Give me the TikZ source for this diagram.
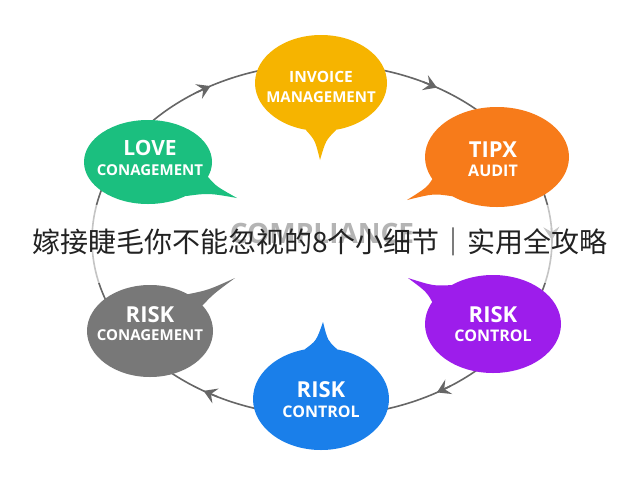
\documentclass[tikz,border=0pt]{standalone}
\usepackage{fontspec}
\usetikzlibrary{shapes.geometric,arrows.meta,calc}
\newfontfamily\cjkf{Noto Sans CJK SC}
\newfontfamily\bubf{Open Sans}
\definecolor{cYel}{HTML}{F6B400}
\definecolor{cGrn}{HTML}{1BBF7F}
\definecolor{cOrg}{HTML}{F77B1A}
\definecolor{cPur}{HTML}{9D1DEB}
\definecolor{cBlu}{HTML}{1A7FEA}
\definecolor{cGry}{HTML}{787878}
\definecolor{cRing}{HTML}{666666}
\definecolor{cComp}{HTML}{B4B4B4}
\definecolor{cTitle}{HTML}{222222}
\tikzset{
  ring/.style={draw=cRing, line width=1.6pt},
  ringhead/.style={draw=cRing, fill=cRing, line width=1.6pt, -{Stealth[length=13pt,width=16pt,inset=5pt]}},
  bub/.style={ellipse, draw=none, inner sep=0pt},
  btxt/.style={text=white, font=\bubf\bfseries, inner sep=0pt, anchor=center},
}
\newcommand\bubtail[4]{%
  \coordinate (#1mid) at ($(#1.center)!0.6!(#1tip)$);
  \fill[#4] (#1.center) -- (#1.#2)
    .. controls ($(#1.#2)!0.5!(#1tip)!0.3!(#1mid)$) .. (#1tip)
    .. controls ($(#1.#3)!0.5!(#1tip)!0.3!(#1mid)$) .. (#1.#3) -- cycle;}
\newcommand\ringpt[1]{({322+230*cos(#1)},{240+176*sin(#1)})}
\begin{document}
\begin{tikzpicture}[x=1pt,y=-1pt]
\useasboundingbox (0,0) rectangle (640,480);
\fill[white] (0,0) rectangle (640,480);
% ring
\draw[ring] (322,240) ellipse [x radius=230, y radius=176];
\draw[ringhead] \ringpt{237} -- \ringpt{241};
\draw[ringhead] \ringpt{296} -- \ringpt{300};
\draw[ringhead] \ringpt{-4} -- \ringpt{0};
\draw[ringhead] \ringpt{56} -- \ringpt{60};
\draw[ringhead] \ringpt{117} -- \ringpt{121};
% faded band
\fill[white, opacity=0.62] (0,205) rectangle (640,283);
% watermark word
\node[text=cComp, font=\bubf\bfseries\fontsize{28}{28}\selectfont, inner sep=0pt] (comp) at (322,233) {COMPLIANCE};
% bubbles
\node[bub, fill=cYel, minimum width=132, minimum height=96] (inv) at (321,83) {};
\coordinate (invtip) at (320,160);
\bubtail{inv}{252}{288}{cYel}
\node[bub, fill=cGrn, minimum width=128, minimum height=84] (love) at (148,162) {};
\coordinate (lovetip) at (237,198);
\bubtail{love}{-14}{-42}{cGrn}
\node[bub, fill=cOrg, minimum width=144, minimum height=100] (tipx) at (497,157) {};
\coordinate (tipxtip) at (407,200);
\bubtail{tipx}{199}{221}{cOrg}
\node[bub, fill=cPur, minimum width=136, minimum height=98] (rctl) at (493,324) {};
\coordinate (rctltip) at (408,278);
\bubtail{rctl}{137}{160}{cPur}
\node[bub, fill=cBlu, minimum width=136, minimum height=102] (bctl) at (321,399) {};
\coordinate (bctltip) at (323,322);
\bubtail{bctl}{108}{72}{cBlu}
\node[bub, fill=cGry, minimum width=126, minimum height=92] (rcon) at (150,331) {};
\coordinate (rcontip) at (235,278);
\bubtail{rcon}{44}{26}{cGry}
% bubble texts
\node[btxt, font=\bubf\bfseries\fontsize{15.5}{15.5}\selectfont] (invA) at (321,77) {INVOICE};
\node[btxt, font=\bubf\bfseries\fontsize{15}{15}\selectfont] (invB) at (321,97) {MANAGEMENT};
\node[btxt, font=\bubf\bfseries\fontsize{21}{21}\selectfont] (loveA) at (150,148) {LOVE};
\node[btxt, font=\bubf\bfseries\fontsize{15}{15}\selectfont] (loveB) at (150,170) {CONAGEMENT};
\node[btxt, font=\bubf\bfseries\fontsize{22}{22}\selectfont] (tipxA) at (493,150) {TIPX};
\node[btxt, font=\bubf\bfseries\fontsize{16}{16}\selectfont] (tipxB) at (493,171) {AUDIT};
\node[btxt, font=\bubf\bfseries\fontsize{22}{22}\selectfont] (rctlA) at (493,315) {RISK};
\node[btxt, font=\bubf\bfseries\fontsize{16}{16}\selectfont] (rctlB) at (493,336) {CONTROL};
\node[btxt, font=\bubf\bfseries\fontsize{22}{22}\selectfont] (bctlA) at (321,390) {RISK};
\node[btxt, font=\bubf\bfseries\fontsize{16}{16}\selectfont] (bctlB) at (321,412) {CONTROL};
\node[btxt, font=\bubf\bfseries\fontsize{22}{22}\selectfont] (rconA) at (150,315) {RISK};
\node[btxt, font=\bubf\bfseries\fontsize{15}{15}\selectfont] (rconB) at (150,335) {CONAGEMENT};
% title
\node[text=cTitle, font=\cjkf\fontsize{28}{28}\selectfont, inner sep=0pt] (title) at (320,242) {嫁接睫毛你不能忽视的8个小细节｜实用全攻略};
\end{tikzpicture}
\end{document}
